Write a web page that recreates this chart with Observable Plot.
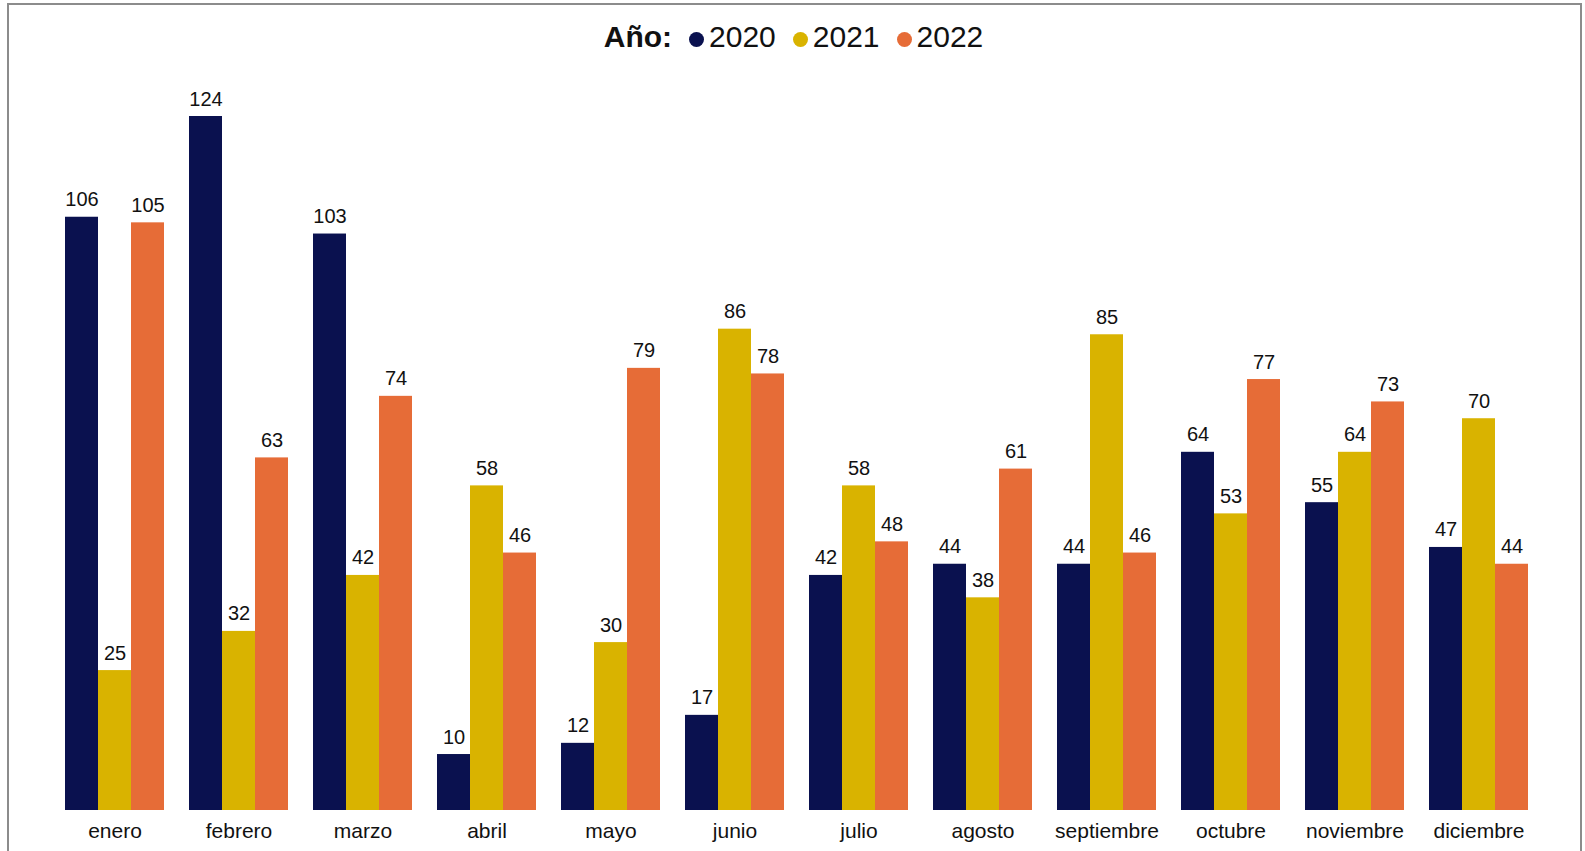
<!DOCTYPE html>
<html><head><meta charset="utf-8">
<script src="https://cdn.jsdelivr.net/npm/d3@7"></script>
<script src="https://cdn.jsdelivr.net/npm/@observablehq/plot@0.6"></script>
<style>
html,body{margin:0;padding:0;background:#fff;overflow:hidden;}
body{width:1585px;height:851px;position:relative;font-family:"Liberation Sans",Arial,sans-serif;}
#frame{position:absolute;left:7px;top:3px;width:1575px;height:900px;border:2px solid #8c8c8c;box-sizing:border-box;pointer-events:none;}
#legend{height:75px;display:flex;justify-content:center;align-items:flex-start;padding-top:20px;padding-left:2px;box-sizing:border-box;font-size:30px;color:#111;}
#legend .t{font-weight:bold;margin-right:17px;}
#legend .it{display:flex;align-items:center;margin-right:17px;}
#legend .it:last-child{margin-right:0;}
#legend .dot{width:15px;height:15px;border-radius:50%;display:inline-block;margin-right:5px;margin-top:4px;}
#chart svg{display:block;}
</style></head>
<body>
<div id="frame"></div>
<div id="legend"></div>
<div id="chart"></div>
<script>
const months = ["enero","febrero","marzo","abril","mayo","junio","julio","agosto","septiembre","octubre","noviembre","diciembre"];
const years = ["2020","2021","2022"];
const colors = ["#0a114f","#d9b300","#e66c37"];
const v2020 = [106,124,103,10,12,17,42,44,44,64,55,47];
const v2021 = [25,32,42,58,30,86,58,38,85,53,64,70];
const v2022 = [105,63,74,46,79,78,48,61,46,77,73,44];

const series = [v2020, v2021, v2022];
const data = [];
months.forEach((m, i) => years.forEach((y, j) => data.push({month: m, year: y, value: series[j][i]})));

const leg = document.getElementById("legend");
leg.innerHTML = `<span class="t">Año:</span>` + years.map((y, j) =>
  `<span class="it"><span class="dot" style="background:${colors[j]}"></span>${y}</span>`).join("");

const plot = Plot.plot({
  width: 1585,
  height: 776,
  marginTop: 41,
  marginBottom: 41,
  marginLeft: 64,
  marginRight: 56,
  style: {fontFamily: "Liberation Sans, Arial, sans-serif", fontSize: "21px", color: "#111"},
  fx: {domain: months, paddingInner: 0.2, paddingOuter: 0, label: null, tickSize: 0, tickPadding: 13, axis: "bottom"},
  x: {domain: years, padding: 0, axis: null},
  y: {domain: [0, 124], axis: null},
  color: {domain: years, range: colors},
  marks: [
    Plot.barY(data, {fx: "month", x: "year", y: "value", fill: "year"}),
    Plot.text(data, {fx: "month", x: "year", y: "value", text: d => String(d.value), dy: -11, lineAnchor: "bottom", fontSize: 20, fill: "#111"})
  ]
});
document.getElementById("chart").appendChild(plot);
</script>
</body></html>
